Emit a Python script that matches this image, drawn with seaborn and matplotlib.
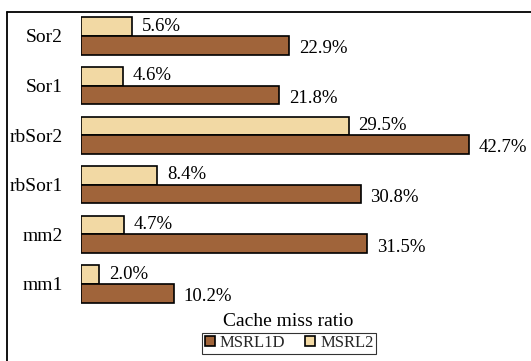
import matplotlib
matplotlib.use("Agg")
import matplotlib.pyplot as plt
from matplotlib.patches import Patch
from matplotlib.lines import Line2D
import seaborn as sns
import pandas as pd

benchmarks = ["Sor2", "Sor1", "rbSor2", "rbSor1", "mm2", "mm1"]
msrl1d = [22.9, 21.8, 42.7, 30.8, 31.5, 10.2]
msrl2 = [5.6, 4.6, 29.5, 8.4, 4.7, 2.0]
series_names = ["MSRL1D", "MSRL2"]
legend_title = "Cache miss ratio"

colors = {"MSRL1D": "#A0643A", "MSRL2": "#F2D9A4"}

df = pd.DataFrame({
    "bench": benchmarks * 2,
    "value": msrl2 + msrl1d,
    "series": ["MSRL2"] * len(benchmarks) + ["MSRL1D"] * len(benchmarks),
})

sns.set_theme(style="white")
plt.rcParams["font.family"] = ["Liberation Serif", "DejaVu Serif"]

W, H = 531, 361
fig = plt.figure(figsize=(W / 100, H / 100), dpi=100)
ax = fig.add_axes([81 / W, 1 - 308.8 / H, 439 / W, 297.6 / H])

sns.barplot(data=df, y="bench", x="value", hue="series", order=benchmarks,
            hue_order=["MSRL2", "MSRL1D"], palette=colors, orient="h",
            width=0.75, edgecolor="black", linewidth=1.2, saturation=1,
            legend=False, ax=ax)

ax.set_xlim(0, 439 / 9.08)
ax.set_ylim(5.5, -0.5)
for s in ax.spines.values():
    s.set_visible(False)
ax.set_xticks([])
ax.set_xlabel("")
ax.set_ylabel("")
ax.tick_params(axis="y", length=0, pad=13, labelsize=14, colors="black")

# value labels: light bars sit slightly high, dark bars slightly low
for cont, dy in zip(ax.containers, [0.5, -2.5]):
    for bar in cont:
        w = bar.get_width()
        yc = bar.get_y() + bar.get_height() / 2
        ax.annotate(f"{w:.1f}%", xy=(w, yc), xytext=(7, dy),
                    textcoords="offset points", ha="left", va="center",
                    fontsize=13.5, color="black")

fig.text(288 / W, 1 - 322 / H, legend_title, ha="center", va="center",
         fontsize=14, color="black")
handles = [Patch(facecolor=colors[n], edgecolor="black", linewidth=1.2, label=n)
           for n in series_names]
leg = fig.legend(handles=handles, loc="center", ncol=2,
                 bbox_to_anchor=(289 / W, 1 - 343 / H), frameon=True,
                 fontsize=12, handlelength=0.6, handleheight=0.6,
                 handletextpad=0.3, columnspacing=1.2, borderpad=0.15,
                 fancybox=False, borderaxespad=0)
leg.get_frame().set_edgecolor("black")
leg.get_frame().set_linewidth(0.8)

# outer frame
fig.add_artist(Line2D([7 / W, 1.0], [1 - 12 / H, 1 - 12 / H], color="black",
                      linewidth=1.3, transform=fig.transFigure))
fig.add_artist(Line2D([7 / W, 7 / W], [1 - 12 / H, 0.0], color="black",
                      linewidth=1.3, transform=fig.transFigure))

fig.savefig("out.png", dpi=100, facecolor="white")
